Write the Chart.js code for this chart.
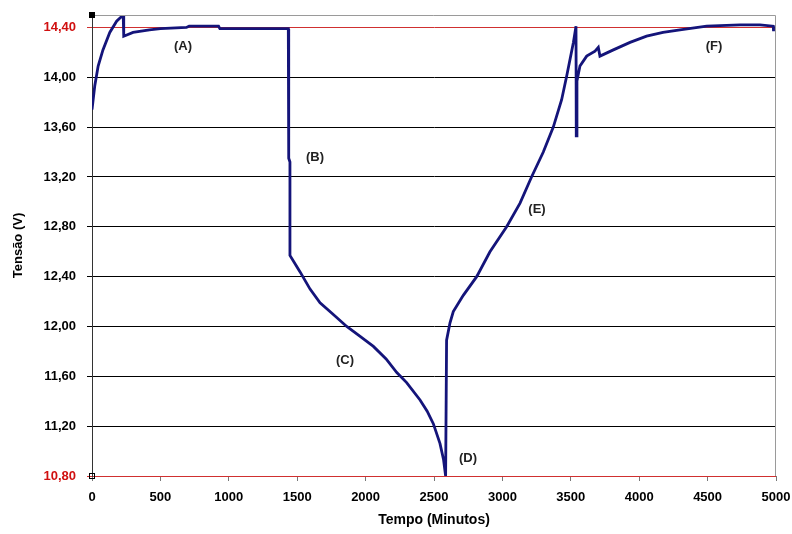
<!DOCTYPE html>
<html>
<head>
<meta charset="utf-8">
<script src="https://cdn.jsdelivr.net/npm/chart.js@4"></script>
<style>
  body { margin: 0; background: #fff; }
</style>
</head>
<body>
<canvas id="grafico" width="792" height="534"></canvas>
<script>
// tempo (minutos) e tensão (V)
const tempo = [
  0, 20, 45, 80, 130, 180, 228, 232, 300, 420, 500, 690, 710, 925, 935, 1435,
  1438, 1447, 1447,
  1520, 1594, 1667, 1760, 1862, 1960, 2057, 2150, 2228, 2300, 2398, 2450, 2495, 2544, 2570, 2585,
  2592, 2617,
  2641, 2714, 2812, 2909, 3031, 3129, 3213, 3299, 3372, 3433, 3470, 3519, 3538,
  3540, 3545, 3567, 3616, 3677, 3701, 3713, 3811, 3933, 4054, 4174, 4298, 4493, 4737, 4883, 4980, 4982
];
const tensao = [
  13.74, 13.93, 14.09, 14.22, 14.36, 14.45, 14.50, 14.33, 14.36, 14.38, 14.39, 14.40, 14.41, 14.41, 14.39, 14.39,
  13.35, 13.32, 12.57,
  12.44, 12.30, 12.19, 12.10, 12.00, 11.92, 11.84, 11.74, 11.63, 11.55, 11.41, 11.32, 11.22, 11.06, 10.93, 10.80,
  11.89, 12.03,
  12.12, 12.25, 12.40, 12.60, 12.80, 12.99, 13.20, 13.40, 13.60, 13.82, 14.01, 14.28, 14.41,
  13.53, 13.97, 14.09, 14.17, 14.21, 14.24, 14.17, 14.22, 14.28, 14.33, 14.36, 14.38, 14.41, 14.42, 14.42, 14.41, 14.37
];

const yTicks = [10.8, 11.2, 11.6, 12.0, 12.4, 12.8, 13.2, 13.6, 14.0, 14.4];
const yLimites = [10.8, 14.4]; // linhas vermelhas

// rótulos das fases
const notas = ['(A)', '(B)', '(C)', '(D)', '(E)', '(F)'];
const notaX = [665, 1630, 1849, 2749, 3253, 4547];
const notaY = [14.25, 13.36, 11.73, 10.94, 12.94, 14.25];

const pontos = tempo.map((t, i) => ({ x: t, y: tensao[i] }));

const fonte = 'Liberation Sans, Arial, sans-serif';

function ehLimite(v) {
  return yLimites.some(l => Math.abs(l - v) < 1e-6);
}

// moldura, rótulos (A)..(F) e marcadores de canto
const extras = {
  id: 'extras',
  afterDraw(chart) {
    const ctx = chart.ctx;
    const a = chart.chartArea;
    const sx = chart.scales.x;
    const sy = chart.scales.y;
    ctx.save();
    ctx.strokeStyle = '#9a9a9a';
    ctx.lineWidth = 1;
    ctx.beginPath();
    ctx.moveTo(a.left, a.top + 0.5);
    ctx.lineTo(a.right - 0.5, a.top + 0.5);
    ctx.lineTo(a.right - 0.5, a.bottom);
    ctx.stroke();

    ctx.fillStyle = '#222';
    ctx.font = 'bold 13px ' + fonte;
    ctx.textAlign = 'center';
    ctx.textBaseline = 'middle';
    notas.forEach((n, i) => {
      ctx.fillText(n, sx.getPixelForValue(notaX[i]), sy.getPixelForValue(notaY[i]));
    });

    // pequenos quadrados de seleção nos cantos
    ctx.fillStyle = '#000';
    ctx.fillRect(a.left - 3, a.top - 3, 6, 6);
    ctx.strokeStyle = '#000';
    ctx.strokeRect(a.left - 2.5, a.bottom - 2.5, 5, 5);
    ctx.restore();
  }
};

new Chart(document.getElementById('grafico'), {
  type: 'line',
  data: {
    datasets: [{
      data: pontos,
      borderColor: '#14147a',
      borderWidth: 2.8,
      pointRadius: 0,
      tension: 0,
      fill: false
    }]
  },
  options: {
    responsive: false,
    animation: false,
    layout: { padding: { top: 15, right: 16, left: 0, bottom: 0 } },
    plugins: {
      legend: { display: false },
      tooltip: { enabled: false }
    },
    scales: {
      x: {
        type: 'linear',
        min: 0,
        max: 5000,
        afterFit(s) {
          s.height = 58;
          s.paddingLeft = 0;
          s.paddingRight = 0;
        },
        ticks: {
          stepSize: 500,
          padding: 9,
          color: '#000',
          font: { family: fonte, size: 13, weight: 'bold' },
          callback: v => String(v)
        },
        grid: {
          drawOnChartArea: false,
          tickLength: 5,
          color: '#777'
        },
        border: { display: false },
        title: {
          display: true,
          text: 'Tempo (Minutos)',
          color: '#000',
          font: { family: fonte, size: 14, weight: 'bold' },
          padding: { top: 0, bottom: 5 }
        }
      },
      y: {
        min: 10.8,
        max: 14.5,
        afterFit(s) {
          s.width = 92;
          s.paddingTop = 0;
          s.paddingBottom = 0;
        },
        afterBuildTicks(s) {
          s.ticks = yTicks.map(v => ({ value: v }));
        },
        ticks: {
          padding: 11,
          color: ctx => ehLimite(ctx.tick.value) ? '#d01010' : '#000',
          font: { family: fonte, size: 13, weight: 'bold' },
          callback: v => v.toFixed(2).replace('.', ',')
        },
        grid: {
          tickLength: 5,
          lineWidth: 1,
          color: ctx => ehLimite(ctx.tick.value) ? '#d03030' : '#000'
        },
        border: { display: true, color: '#333', width: 1 },
        title: {
          display: true,
          text: 'Tensão (V)',
          color: '#000',
          font: { family: fonte, size: 13, weight: 'bold' },
          padding: { top: 11, bottom: 0 }
        }
      }
    }
  },
  plugins: [extras]
});
</script>
</body>
</html>
